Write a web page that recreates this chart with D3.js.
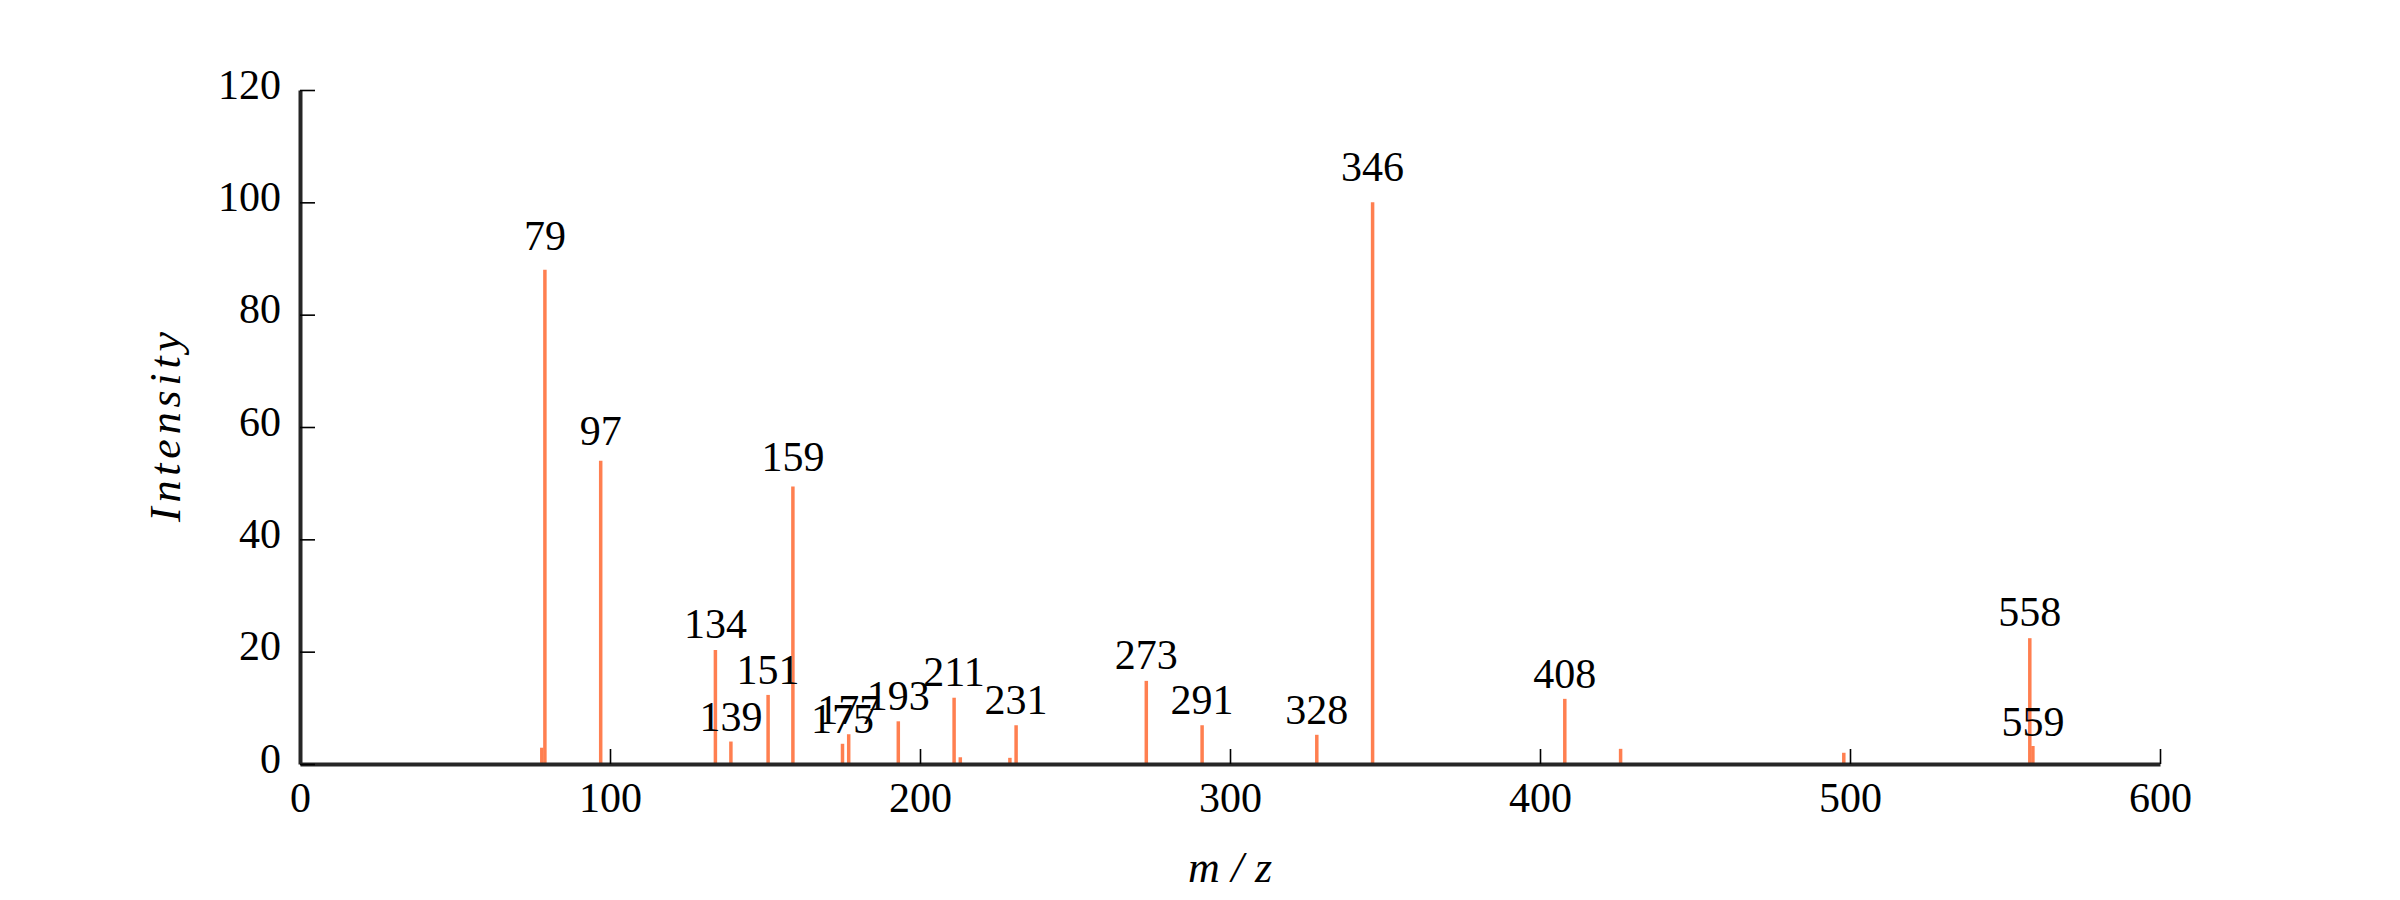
<!DOCTYPE html>
<html>
<head>
<meta charset="utf-8">
<script src="https://cdn.jsdelivr.net/npm/d3@7"></script>
<style>
  html, body { margin: 0; padding: 0; background: #ffffff; }
  svg { display: block; }
  svg text { font-family: "Liberation Serif", "DejaVu Serif", "Times New Roman", Times, serif; }
</style>
</head>
<body>
<svg id="chart" width="2400" height="900"></svg>
<script>
// ---- data ----
const mz        = [78, 79, 97, 134, 139, 151, 159, 175, 177, 193, 211, 213, 229, 231, 273, 291, 328, 346, 408, 426, 498, 558, 559];
const intensity = [2.9, 88, 54, 20.3, 4.0, 12.3, 49.4, 3.6, 5.3, 7.6, 11.8, 1.2, 1.1, 6.9, 14.8, 6.9, 5.2, 100, 11.6, 2.7, 2.0, 22.4, 3.2];
const labeledPeaks = [79, 97, 134, 139, 151, 159, 175, 177, 193, 211, 231, 273, 291, 328, 346, 408, 558, 559];
const xTicks = [0, 100, 200, 300, 400, 500, 600];
const yTicks = [0, 20, 40, 60, 80, 100, 120];
const xLabel = "m/z";
const yLabel = "Intensity";

(function () {
  // ---- layout ----
  const svg = d3.select("#chart");
  const mLeft = 300, mRight = 2160, mTop = 90, mBottom = 764;

  const x = d3.scaleLinear().domain([0, 600]).range([mLeft, mRight]);
  const y = d3.scaleLinear().domain([0, 120]).range([mBottom, mTop]);

  const peaks = mz.map((m, i) => ({ mz: m, v: intensity[i] }));

  // bars (stems)
  svg.append("g").selectAll("line")
    .data(peaks).join("line")
    .attr("x1", d => x(d.mz)).attr("x2", d => x(d.mz))
    .attr("y1", y(0)).attr("y2", d => y(d.v))
    .attr("stroke", "#ff7f50")
    .attr("stroke-width", 3.5);

  // peak labels
  svg.append("g").selectAll("text")
    .data(peaks.filter(d => labeledPeaks.includes(d.mz))).join("text")
    .attr("x", d => x(d.mz))
    .attr("y", d => y(d.v * 1.02) - 10)
    .attr("text-anchor", "middle")
    .style("font-size", "42px")
    .attr("fill", "#000")
    .text(d => d.mz);

  // x axis
  const gx = svg.append("g")
    .attr("transform", `translate(0,${mBottom})`)
    .call(d3.axisBottom(x).tickValues(xTicks).tickSizeInner(-15).tickSizeOuter(0).tickFormat(d3.format("d")));
  gx.attr("font-family", null).attr("font-size", null);
  gx.select(".domain").attr("stroke", "#262626").attr("stroke-width", 4);
  gx.selectAll(".tick line").attr("stroke", "#000").attr("stroke-width", 1.6);
  gx.selectAll(".tick text")
    .attr("y", 48).attr("dy", 0)
    .style("font-size", "42px").attr("fill", "#000");

  // y axis
  const gy = svg.append("g")
    .attr("transform", `translate(${mLeft},0)`)
    .call(d3.axisLeft(y).tickValues(yTicks).tickSizeInner(-15).tickSizeOuter(0).tickFormat(d3.format("d")));
  gy.attr("font-family", null).attr("font-size", null);
  gy.select(".domain").attr("stroke", "#262626").attr("stroke-width", 4);
  gy.selectAll(".tick line").attr("stroke", "#000").attr("stroke-width", 1.6);
  gy.selectAll(".tick text")
    .attr("x", -19).attr("dy", 8)
    .style("font-size", "42px").attr("fill", "#000");

  // axis titles
  svg.append("text")
    .attr("x", (mLeft + mRight) / 2)
    .attr("y", 882)
    .attr("text-anchor", "middle")
    .style("font-style", "italic")
    .style("font-size", "44px")
    .attr("textLength", 84)
    .attr("lengthAdjust", "spacing")
    .text(xLabel);

  svg.append("text")
    .attr("transform", `translate(180,${(mTop + mBottom) / 2}) rotate(-90)`)
    .attr("text-anchor", "middle")
    .style("font-style", "italic")
    .style("font-size", "44px")
    .attr("textLength", 190)
    .attr("lengthAdjust", "spacing")
    .text(yLabel);
})();
</script>
</body>
</html>
